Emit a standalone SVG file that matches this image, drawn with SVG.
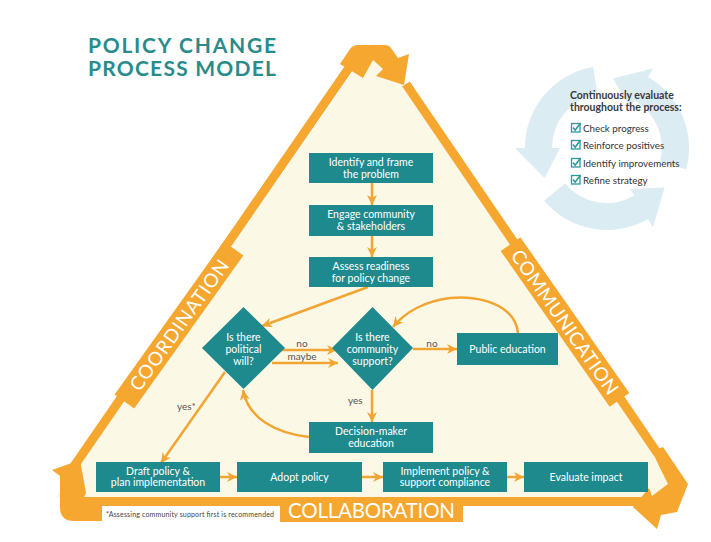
<svg xmlns="http://www.w3.org/2000/svg" width="711" height="542" viewBox="0 0 711 542">
<style>
.box{fill:#1f8a8e}
.bt{font-family:Lato,'Open Sans',sans-serif;font-size:10.5px;fill:#fff;text-anchor:middle}
.lbl{font-family:Lato,'Open Sans',sans-serif;font-size:10px;fill:#555}
.con{fill:none;stroke:#f2a533;stroke-width:2.5}
.or{fill:#f5a72f}
.ln{fill:none;stroke:#f5a72f;stroke-width:9}
.side{font-family:Lato,'Open Sans',sans-serif;font-size:19px;fill:#fff;text-anchor:middle}
.cyc{fill:#dbecf3}
.chk{font-family:Lato,'Open Sans',sans-serif;font-size:9.8px;fill:#333}
.hd{font-family:Lato,'Open Sans',sans-serif;font-size:10.5px;font-weight:bold;fill:#3a3a3a}
.ttl{font-family:Lato,'Open Sans',sans-serif;font-size:21px;font-weight:bold;fill:#2a8b8b}
</style>
<defs>
<marker id="ah" viewBox="0 0 10 10" refX="10" refY="5" markerWidth="10" markerHeight="10" markerUnits="userSpaceOnUse" orient="auto"><path d="M0,0 L10,5 L0,10 L3,5 Z" fill="#f2a533"/></marker>
<g id="cb"><rect x="0.5" y="0.5" width="8.5" height="8.5" fill="none" stroke="#2a9a9a" stroke-width="1.3"/><path d="M2,4.5 L4.2,7.2 L9.5,0" fill="none" stroke="#2a9a9a" stroke-width="1.6"/></g>
</defs>
<rect width="711" height="542" fill="#fff"/>

<g id="title">
<text class="ttl" x="88" y="53" textLength="188" lengthAdjust="spacing">POLICY CHANGE</text>
<text class="ttl" x="88" y="76" textLength="188" lengthAdjust="spacing">PROCESS MODEL</text>
</g>

<g id="evaluation-cycle">
<path class="cyc" d="M593.1,67 A82,82 0 0 0 525,148 L515,148 L544.5,178 L560,148 L552,148 A55,55 0 0 1 597.4,93.8 Z"/>
<path class="cyc" d="M544.2,200.7 A82,82 0 0 0 648,219 L653,227.5 L664.5,187.6 L630,189 L634.5,195.6 A55,55 0 0 1 564.9,183.4 Z"/>
<path class="cyc" d="M686.2,169.2 A82,82 0 0 0 648,77 L653,68.5 L613,78.5 L630,107 L634.5,100.4 A55,55 0 0 1 660.1,162.2 Z"/>
<text class="hd" x="570" y="99">Continuously evaluate</text>
<text class="hd" x="570" y="111">throughout the process:</text>
<use href="#cb" x="571" y="123"/><text class="chk" x="583" y="131.5">Check progress</text>
<use href="#cb" x="571" y="140"/><text class="chk" x="583" y="148.5">Reinforce positives</text>
<use href="#cb" x="571" y="158"/><text class="chk" x="583" y="166.5">Identify improvements</text>
<use href="#cb" x="571" y="175"/><text class="chk" x="583" y="183.5">Refine strategy</text>
</g>

<g id="triangle">
<polygon points="374,42 56,497 686,497" fill="#fcf8e6"/>
<path class="ln" d="M353,62 L70,472"/>
<path class="ln" d="M406,84 L658,454"/>
<rect class="or" x="84" y="497" width="566" height="9"/>
<path class="or" d="M340,64 L350,49 Q353,45 358,45 L385,45 Q389,45 391,48 L398,58 L409,54 L404,85 L376,76 L383,69 L373,60 L363,78 Z"/>
<path class="or" d="M52,470 L80,460 L86,493 L84,497 L102,497 L102,521 L74,521 Q60,521 60,507 L60,476 Z"/>
<path class="or" d="M652,451 L663,447 L688,484 L677,512 L661,515 L657,529 L633,507 L649,488 L652,496 L668,484 L660,468 Z"/>
</g>

<g id="coordination" transform="translate(179,325) rotate(-54.5)">
<rect class="or" x="-94" y="-12" width="188" height="24"/>
<text class="side" x="0" y="7" textLength="156" lengthAdjust="spacing">COORDINATION</text>
</g>
<g id="communication" transform="translate(565,322) rotate(55)">
<rect class="or" x="-95" y="-12" width="190" height="24"/>
<text class="side" x="0" y="7" textLength="172" lengthAdjust="spacing">COMMUNICATION</text>
</g>
<g id="collaboration">
<rect class="or" x="280" y="497" width="183" height="25"/>
<text class="side" x="371.5" y="517.5" style="font-size:20.5px" textLength="167" lengthAdjust="spacing">COLLABORATION</text>
</g>
<g id="footnote">
<rect x="102" y="506" width="178" height="16" fill="#fff"/>
<text x="106" y="517" style="font-family:Lato,'Open Sans',sans-serif;font-size:7px;fill:#444" textLength="168" lengthAdjust="spacing">*Assessing community support first is recommended</text>
</g>

<g id="connectors">
<path class="con" marker-end="url(#ah)" d="M372,183 L372,205"/>
<path class="con" marker-end="url(#ah)" d="M372,236 L372,257"/>
<path class="con" marker-end="url(#ah)" d="M368,287 L262,326"/>
<path class="con" marker-end="url(#ah)" d="M280,350 L337,350"/>
<path class="con" marker-end="url(#ah)" d="M272,363 L338,363"/>
<path class="con" marker-end="url(#ah)" d="M413,349 L457,349"/>
<path class="con" marker-end="url(#ah)" d="M518,333 C515,305 480,295 450,298 C425,301 405,312 393,327"/>
<path class="con" marker-end="url(#ah)" d="M372,390 L372,422"/>
<path class="con" marker-end="url(#ah)" d="M309,437 C275,433 248,418 243,390"/>
<path class="con" marker-end="url(#ah)" d="M225,372 L161,463"/>
<path class="con" marker-end="url(#ah)" d="M220,477 L237,477"/>
<path class="con" marker-end="url(#ah)" d="M362,477 L383,477"/>
<path class="con" marker-end="url(#ah)" d="M507,477 L524,477"/>
<text class="lbl" x="302" y="347" text-anchor="middle">no</text>
<text class="lbl" x="302" y="360" text-anchor="middle">maybe</text>
<text class="lbl" x="432" y="347" text-anchor="middle">no</text>
<text class="lbl" x="348" y="404">yes</text>
<text class="lbl" x="177" y="410">yes*</text>
</g>

<g id="identify"><rect class="box" x="309" y="153" width="124" height="30"/><text class="bt" x="371" y="166">Identify and frame</text><text class="bt" x="371" y="178">the problem</text></g>
<g id="engage"><rect class="box" x="309" y="205" width="124" height="31"/><text class="bt" x="371" y="218">Engage community</text><text class="bt" x="371" y="230">&amp; stakeholders</text></g>
<g id="assess"><rect class="box" x="309" y="257" width="124" height="30"/><text class="bt" x="371" y="270">Assess readiness</text><text class="bt" x="371" y="282">for policy change</text></g>
<g id="political-will"><polygon class="box" points="243.5,307 285,348 243.5,389 202,348"/><text class="bt" x="243.5" y="340.5">Is there</text><text class="bt" x="243.5" y="352.5">political</text><text class="bt" x="243.5" y="364.5">will?</text></g>
<g id="community-support"><polygon class="box" points="372.5,307 413,348 372.5,390 332,348"/><text class="bt" x="372.5" y="340.5">Is there</text><text class="bt" x="372.5" y="352.5">community</text><text class="bt" x="372.5" y="364.5">support?</text></g>
<g id="public-education"><rect class="box" x="457" y="333" width="101" height="32"/><text class="bt" x="507.5" y="352.5">Public education</text></g>
<g id="decision-maker"><rect class="box" x="309" y="422" width="124" height="31"/><text class="bt" x="371" y="434.5">Decision-maker</text><text class="bt" x="371" y="446.5">education</text></g>
<g id="draft"><rect class="box" x="96" y="462" width="124" height="30"/><text class="bt" x="158" y="474.5">Draft policy &amp;</text><text class="bt" x="158" y="486">plan implementation</text></g>
<g id="adopt"><rect class="box" x="237" y="462" width="125" height="30"/><text class="bt" x="299.5" y="480.5">Adopt policy</text></g>
<g id="implement"><rect class="box" x="383" y="462" width="124" height="30"/><text class="bt" x="445" y="474.5">Implement policy &amp;</text><text class="bt" x="445" y="486">support compliance</text></g>
<g id="evaluate"><rect class="box" x="524" y="462" width="124" height="30"/><text class="bt" x="586" y="480.5">Evaluate impact</text></g>
</svg>
